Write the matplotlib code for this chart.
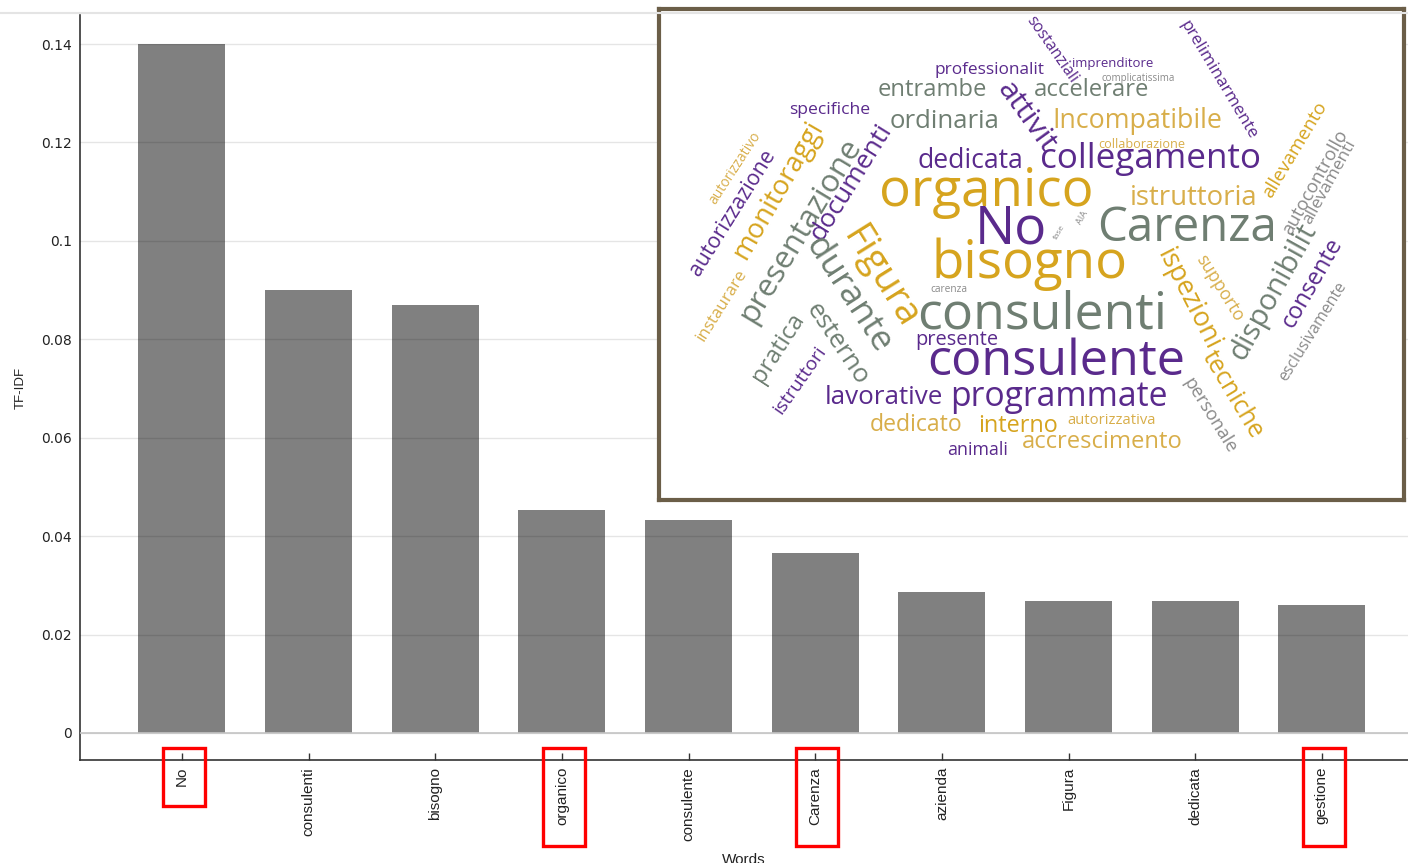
import matplotlib
matplotlib.use("Agg")
import matplotlib.pyplot as plt
from matplotlib.patches import Rectangle
from matplotlib.lines import Line2D

# bar chart data
words = ["No", "consulenti", "bisogno", "organico", "consulente",
         "Carenza", "azienda", "Figura", "dedicata", "gestione"]
tfidf = [0.140, 0.0901, 0.0869, 0.0453, 0.0432,
         0.0365, 0.0286, 0.0268, 0.0268, 0.0260]
yticks = [0, 0.02, 0.04, 0.06, 0.08, 0.1, 0.12, 0.14]
highlighted = ["No", "organico", "Carenza", "gestione"]

# word cloud inset: word, centre x, centre y (pixels of the 1408x863 frame),
# length along the baseline (px), angle (deg), colour key
cloud_words = ["professionalit", "entrambe", "specifiche", "ordinaria", "dedicata",
               "organico", "No", "bisogno", "consulenti", "consulente",
               "presente", "programmate", "lavorative", "dedicato", "interno",
               "autorizzativa", "accrescimento", "animali", "imprenditore",
               "complicatissima", "accelerare", "Incompatibile", "collaborazione",
               "collegamento", "istruttoria", "Carenza", "carenza",
               "autorizzativo", "autorizzazione", "monitoraggi", "presentazione",
               "documenti", "Figura", "durante", "esterno", "pratica",
               "istruttori", "instaurare", "sostanziali", "preliminarmente",
               "allevamento", "autocontrollo", "allevamenti", "disponibilit",
               "consente", "esclusivamente", "ispezioni", "tecniche", "supporto",
               "personale", "attivit", "AIA", "fase"]
cloud_x = [990, 932, 830, 945, 970,
           986, 1011, 1030, 1042, 1056,
           957, 1059, 884, 916, 1018,
           1112, 1102, 978, 1113,
           1138, 1092, 1137, 1142,
           1150, 1194, 1187, 949,
           735, 733, 778, 800,
           851, 880, 848, 837, 778,
           800, 722, 1052, 1218,
           1295, 1315, 1330, 1273,
           1312, 1313, 1188, 1232, 1220,
           1210, 1026, 1082, 1060]
cloud_y = [70, 90, 110, 121, 161,
           192, 230, 264, 315, 362,
           340, 397, 398, 425, 426,
           420, 442, 450, 64,
           79, 90, 121, 145,
           159, 198, 228, 289,
           168, 213, 190, 230,
           182, 277, 295, 344, 348,
           380, 305, 50, 80,
           150, 182, 182, 292,
           283, 332, 300, 395, 288,
           416, 117, 218, 232]
cloud_len = [110, 109, 81, 110, 106,
             214, 72, 196, 250, 258,
             83, 218, 118, 93, 80,
             89, 160, 61, 81,
             73, 115, 170, 86,
             220, 128, 180, 37,
             83, 144, 156, 209,
             133, 113, 131, 93, 78,
             79, 82, 78, 135,
             109, 117, 94, 153,
             100, 114, 111, 98, 75,
             85, 81, 14, 16]
cloud_angle = [0, 0, 0, 0, 0,
               0, 0, 0, 0, 0,
               0, 0, 0, 0, 0,
               0, 0, 0, 0,
               0, 0, 0, 0,
               0, 0, 0, 0,
               57, 58, 60, 59,
               58, -58, -57, -56, 57,
               55, 58, -55, -59,
               59, 61, 61, 61,
               60, 58, -63, -59, -58,
               -58, -54, 60, 60]
cloud_col = ["p", "s", "p", "s", "p",
             "g", "p", "g", "s", "p",
             "p", "p", "p", "lg", "g",
             "lg", "lg", "p", "p",
             "gr", "s", "lg", "lg",
             "p", "lg", "s", "gr",
             "lg", "p", "g", "s",
             "p", "g", "s", "s", "s",
             "p", "lg", "p", "p",
             "g", "gr", "gr", "s",
             "p", "gr", "g", "g", "lg",
             "gr", "p", "gr", "gr"]
palette = {"g": "#d6a41e", "lg": "#d8ae4a", "p": "#5a2a8c",
           "s": "#6f7e72", "gr": "#8a8a8a"}

W, H = 1408, 863
fig = plt.figure(figsize=(W / 100, H / 100), dpi=100)

# main axes, placed in the same pixel frame as the reference
ax = fig.add_axes([80 / W, (H - 760) / H, 1 - 80 / W, (760 - 15) / H])
x = list(range(len(words)))
ax.bar(x, tfidf, width=0.687, color="#808080", zorder=2)
ax.set_xlim(-0.805, 9.68)
ax.set_ylim(-0.0055, 0.1459)
ax.set_yticks(yticks)
ax.set_yticklabels([("%g" % v) for v in yticks], fontsize=10,
                   family="DejaVu Sans", color="#222222")
ax.set_xticks(x)
ax.set_xticklabels(words, rotation=90, fontsize=11, family="Liberation Sans",
                   color="#222222")
ax.tick_params(axis="y", length=0, pad=6)
ax.tick_params(axis="x", direction="in", length=5, width=1, pad=5,
               color="#333333")
ax.grid(axis="y", color="black", alpha=0.1, lw=1, zorder=3)
ax.set_axisbelow(False)
ax.axhline(0, color="#c4c4c4", lw=1.2, zorder=3)
for side in ("top", "right"):
    ax.spines[side].set_visible(False)
for side in ("left", "bottom"):
    ax.spines[side].set_color("#333333")
    ax.spines[side].set_linewidth(1.2)
ax.set_ylabel("TF-IDF", fontsize=9.5, family="Liberation Sans", color="#222222")
ax.yaxis.set_label_coords(-53 / (W - 80), 0.5)
ax.set_xlabel("Words", fontsize=11, family="Liberation Sans", color="#222222",
              labelpad=9)

# red boxes around the highlighted tick labels
trans = ax.get_xaxis_transform()
for w in highlighted:
    i = words.index(w)
    bottom = -0.0617 if w == "No" else -0.1154
    ax.add_patch(Rectangle((i - 0.15, bottom), 0.33, 0.0161 - bottom,
                           transform=trans, fill=False, ec="#ff0000", lw=2.4,
                           clip_on=False, zorder=5))

# faint frame line at the very top
fig.add_artist(Line2D([0, 1], [(H - 13) / H] * 2, color="#e4e4e4", lw=1.5))

# word cloud inset
cx0, cx1, cy0, cy1 = 659, 1404, 9, 500
cax = fig.add_axes([cx0 / W, (H - cy1) / H, (cx1 - cx0) / W, (cy1 - cy0) / H])
cax.set_xlim(cx0, cx1)
cax.set_ylim(cy1, cy0)
cax.set_xticks([])
cax.set_yticks([])
cax.set_facecolor("white")
for sp in cax.spines.values():
    sp.set_color("#6b5e48")
    sp.set_linewidth(3)

renderer = fig.canvas.get_renderer()
for w, px, py, ln, ang, c in zip(cloud_words, cloud_x, cloud_y, cloud_len,
                                  cloud_angle, cloud_col):
    t = cax.text(px, py, w, fontsize=10, family="Open Sans", color=palette[c],
                 ha="center", va="center", rotation_mode="anchor")
    width = t.get_window_extent(renderer).width
    t.set_fontsize(10 * ln / width)
    t.set_rotation(ang)

fig.savefig("out.png", dpi=100)
plt.close(fig)
